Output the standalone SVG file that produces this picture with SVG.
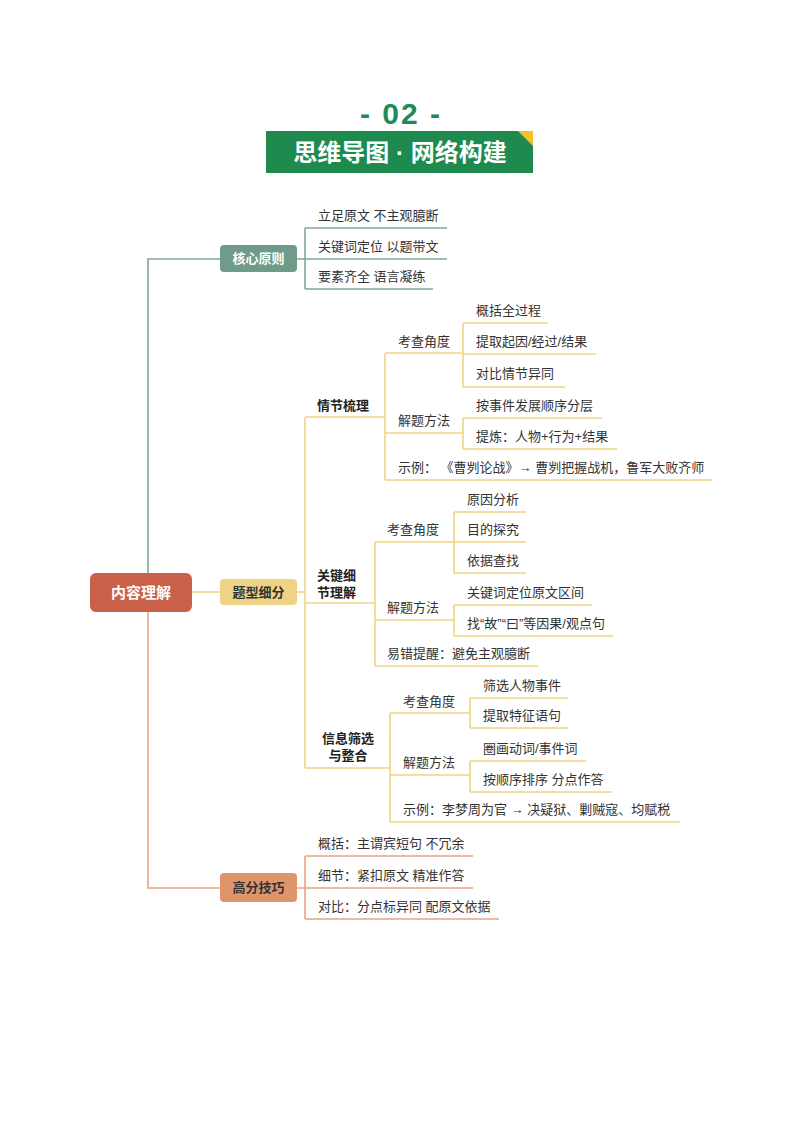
<svg xmlns="http://www.w3.org/2000/svg" width="800" height="1132" viewBox="0 0 800 1132">
<style>
text{font-family:"Liberation Sans","Noto Sans CJK SC",sans-serif;}
.t{font-size:13px;fill:#333;}
.b{font-size:13px;fill:#222;font-weight:bold;}
.nt{font-size:13px;font-weight:bold;text-anchor:middle;}
.ct{stroke:#7fa898;stroke-width:1.6;fill:none;}
.cy{stroke:#efd486;stroke-width:1.6;fill:none;}
.co{stroke:#e6a582;stroke-width:1.6;fill:none;}
</style>
<rect width="800" height="1132" fill="#fff"/>
<g id="title">
<text x="401" y="124" font-size="30" font-weight="bold" fill="#1f8a5a" text-anchor="middle" letter-spacing="2" xml:space="preserve">- 02 -</text>
<rect x="266" y="131" width="267" height="42" fill="#1f8a4e"/>
<polygon points="518,131 533,131 533,146" fill="#f2c12e"/>
<text x="400" y="161" font-size="24" font-weight="bold" fill="#fff" text-anchor="middle" xml:space="preserve">思维导图 · 网络构建</text>
</g>
<g id="connectors">
<path class="ct" d="M148,573 V259 H220 M297,259 H305 M305,228 V289 M305,228 H447 M305,259 H447 M305,289 H433"/>
<path class="cy" d="M192,592 H220 M297,592 H305 M305,417 V768"/>
<path class="cy" d="M305,417 H385 M385,353 V480 M385,353 H463 M463,323 V387 M463,323 H548 M463,354 H596 M463,387 H565 M385,433 H463 M463,418 V449 M463,418 H602 M463,449 H617 M385,480 H712"/>
<path class="cy" d="M305,603 H375 M375,542 V666 M375,542 H454 M454,512 V573 M454,512 H526 M454,542 H526 M454,573 H526 M375,620 H454 M454,605 V636 M454,605 H592 M454,636 H613 M375,666 H538"/>
<path class="cy" d="M305,768 H390 M390,713 V822 M390,713 H470 M470,698 V728 M470,698 H568 M470,728 H568 M390,775 H470 M470,761 V792 M470,761 H586 M470,792 H612 M390,822 H680"/>
<path class="co" d="M148,612 V888 H220 M297,888 H305 M305,856 V919 M305,856 H473 M305,888 H473 M305,919 H499"/>
</g>
<g id="root">
<rect x="90" y="573" width="102" height="39" rx="6" fill="#c9614a"/>
<text x="141" y="598" font-size="15" font-weight="bold" fill="#fff" text-anchor="middle">内容理解</text>
</g>
<g id="hexin">
<rect x="220" y="245" width="77" height="27" rx="4" fill="#6f9b88"/>
<text class="nt" x="258.5" y="263" fill="#fff">核心原则</text>
</g>
<g id="hexin-items">
<text class="t" x="318" y="220">立足原文 不主观臆断</text>
<text class="t" x="318" y="251">关键词定位 以题带文</text>
<text class="t" x="318" y="281">要素齐全 语言凝练</text>
</g>
<g id="tixing">
<rect x="220" y="579" width="77" height="26" rx="4" fill="#eed386"/>
<text class="nt" x="258.5" y="597" fill="#333">题型细分</text>
</g>
<g id="qingjie">
<text class="b" x="317" y="410">情节梳理</text>
<text class="t" x="398" y="346">考查角度</text>
<text class="t" x="476" y="315">概括全过程</text>
<text class="t" x="476" y="346">提取起因/经过/结果</text>
<text class="t" x="476" y="378">对比情节异同</text>
<text class="t" x="398" y="425">解题方法</text>
<text class="t" x="476" y="410">按事件发展顺序分层</text>
<text class="t" x="476" y="441">提炼：人物+行为+结果</text>
<text class="t" x="398" y="472" xml:space="preserve">示例： 《曹刿论战》→ 曹刿把握战机，鲁军大败齐师</text>
</g>
<g id="guanjian">
<text class="b" x="317" y="580">关键细</text>
<text class="b" x="317" y="597">节理解</text>
<text class="t" x="387" y="534">考查角度</text>
<text class="t" x="467" y="504">原因分析</text>
<text class="t" x="467" y="534">目的探究</text>
<text class="t" x="467" y="565">依据查找</text>
<text class="t" x="387" y="612">解题方法</text>
<text class="t" x="467" y="597">关键词定位原文区间</text>
<text class="t" x="467" y="628">找“故”“曰”等因果/观点句</text>
<text class="t" x="387" y="658">易错提醒：避免主观臆断</text>
</g>
<g id="xinxi">
<text class="b" x="348" y="743" text-anchor="middle">信息筛选</text>
<text class="b" x="348" y="760" text-anchor="middle">与整合</text>
<text class="t" x="403" y="706">考查角度</text>
<text class="t" x="483" y="690">筛选人物事件</text>
<text class="t" x="483" y="720">提取特征语句</text>
<text class="t" x="403" y="767">解题方法</text>
<text class="t" x="483" y="753">圈画动词/事件词</text>
<text class="t" x="483" y="784">按顺序排序 分点作答</text>
<text class="t" x="403" y="814">示例：李梦周为官 → 决疑狱、剿贼寇、均赋税</text>
</g>
<g id="gaofen">
<rect x="220" y="873" width="77" height="29" rx="4" fill="#df956c"/>
<text class="nt" x="258.5" y="892" fill="#333">高分技巧</text>
</g>
<g id="gaofen-items">
<text class="t" x="318" y="848">概括：主谓宾短句 不冗余</text>
<text class="t" x="318" y="880">细节：紧扣原文 精准作答</text>
<text class="t" x="318" y="911">对比：分点标异同 配原文依据</text>
</g>
</svg>
